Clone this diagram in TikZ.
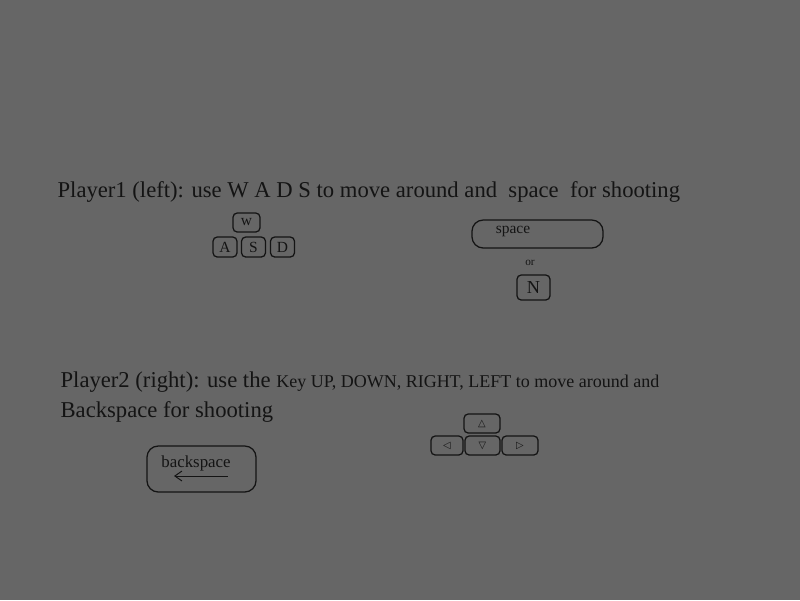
\documentclass[tikz,border=0pt]{standalone}
\usepackage{fontspec}
\setmainfont{Liberation Serif}
\newfontfamily\symfont{DejaVu Sans}
\usetikzlibrary{arrows.meta, positioning}
\definecolor{cbg}{HTML}{666666}
\definecolor{cink}{HTML}{141414}
\tikzset{
  every picture/.style={line width=0.9pt},
  key/.style={draw=cink, text=cink, rounded corners=3pt, inner sep=0pt,
    minimum width=0.6cm, minimum height=0.5cm, font=\fontsize{11}{12}\selectfont},
  widekey/.style={key, rounded corners=8pt},
  arrowkey/.style={key, minimum height=0.475cm, font=\symfont\fontsize{7}{8}\selectfont},
  title/.style={text=cink, anchor=base west, inner sep=0pt, font=\fontsize{16.1}{19}\selectfont},
  note/.style={text=cink, inner sep=0pt, font=\fontsize{11}{12}\selectfont},
  arrow/.style={{Straight Barb[length=5pt, width=7pt]}-, draw=cink, line width=0.7pt},
}
\begin{document}
\begin{tikzpicture}[x=0.025cm, y=-0.025cm]
  \fill[cbg] (0,0) rectangle (800,600);
  \useasboundingbox (0,0) rectangle (800,600);
  % player 1
  \node[title] (p1) at (57,197) {Player1 (left): use W A D S to move around and\ \ space\ \ for shooting};
  \node[key, minimum width=0.675cm, minimum height=0.475cm] (w) at (246.5,222.5) {w};
  \node[key] (a) at (225,247) {A};
  \node[key] (s) at (253.5,247) {S};
  \node[key] (d) at (282.5,247) {D};
  \node[widekey, minimum width=3.275cm, minimum height=0.7cm] (spacekey) at (537.5,234) {};
  \node[note] (spacelbl) at (513,231) {space};
  \node[note, font=\fontsize{8}{9}\selectfont] (or) at (530,263) {or};
  \node[key, minimum width=0.825cm, minimum height=0.625cm, font=\fontsize{13}{14}\selectfont] (n) at (533.5,287.5) {N};
  % player 2
  \node[title] (p2a) at (60,387) {Player2 (right): use the {\fontsize{12.8}{14}\selectfont Key UP, DOWN, RIGHT, LEFT to move around and}};
  \node[title] (p2b) at (60,417) {Backspace for shooting};
  \node[arrowkey, minimum width=0.9cm] (up) at (482,423.5) {△};
  \node[arrowkey, minimum width=0.8cm] (left) at (447,445.5) {◁};
  \node[arrowkey, minimum width=0.875cm] (down) at (482.5,445.5) {▽};
  \node[arrowkey, minimum width=0.9cm] (right) at (520,445.5) {▷};
  \node[widekey, minimum width=2.725cm, minimum height=1.15cm] (bskey) at (201.5,469) {};
  \node[note, font=\fontsize{12}{13}\selectfont] (bslbl) at (196,463) {backspace};
  \coordinate (bsa) at (174,476);
  \coordinate (bsb) at (228,476);
  \draw[arrow] (bsa) -- (bsb);
\end{tikzpicture}
\end{document}
